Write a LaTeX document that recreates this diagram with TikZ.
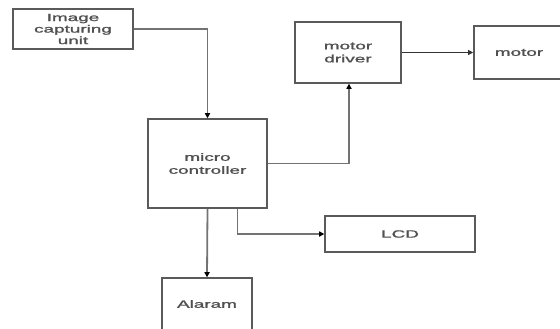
\documentclass[tikz,border=0pt]{standalone}
\usepackage{fontspec}
\setmainfont{Liberation Sans}
\newfontfamily\blkfont[FakeBold=1.2]{Liberation Sans}
\usetikzlibrary{arrows.meta}
\definecolor{boxgray}{HTML}{5A5A5A}
\definecolor{txtgray}{HTML}{505050}
\newcommand\sx[1]{\scalebox{1.8}[1]{#1}}
\tikzset{
  blktxt/.style={text=txtgray, font=\blkfont\fontsize{10.5}{13}\selectfont, align=center},
  blk/.style={draw=boxgray, line width=1.6pt, fill=white, inner sep=0pt, blktxt},
  conn/.style={draw=boxgray!85, line width=1.8pt, -{Triangle[length=5pt,width=5.5pt,fill=black,line width=0pt]}},
  thin conn/.style={draw=black!80, line width=0.9pt, -{Triangle[length=5pt,width=5pt]}}
}
\begin{document}
\begin{tikzpicture}[x=1pt,y=-1pt]
\useasboundingbox (0,0) rectangle (560,329);
\clip (0,0) rectangle (560,329);
\node[blk, minimum width=120pt, minimum height=40pt] (img) at (73,29) {\sx{Image}\\[-1.5pt]\sx{capturing}\\[-1.5pt]\sx{unit}};
\node[blk, minimum width=119pt, minimum height=89pt] (mc) at (207.5,163.5) {\sx{micro}\\\sx{controller}};
\node[blk, minimum width=106pt, minimum height=61pt] (md) at (348,52.5) {\sx{motor}\\\sx{driver}};
\node[blk, minimum width=110pt, minimum height=53pt] (mo) at (529,52.5) {};
\node[blktxt] (motl) at (519,52.5) {\sx{motor}};
\node[blk, minimum width=150pt, minimum height=36pt] (lcd) at (400,234) {\sx{LCD}};
\node[blk, minimum width=90pt, minimum height=60pt] (al) at (207,308) {};
\node[blktxt] (all) at (207,304) {\sx{Alaram}};
\draw[conn] (img.east) -| (mc.north);
\draw[conn] (mc.east) -| ([xshift=1pt]md.south);
\draw[thin conn] (md.east) -- (mo.west);
\draw[conn] (mc.south) -- (al.north);
\draw[conn] ([xshift=30pt]mc.south) |- (lcd.west);
\end{tikzpicture}
\end{document}
